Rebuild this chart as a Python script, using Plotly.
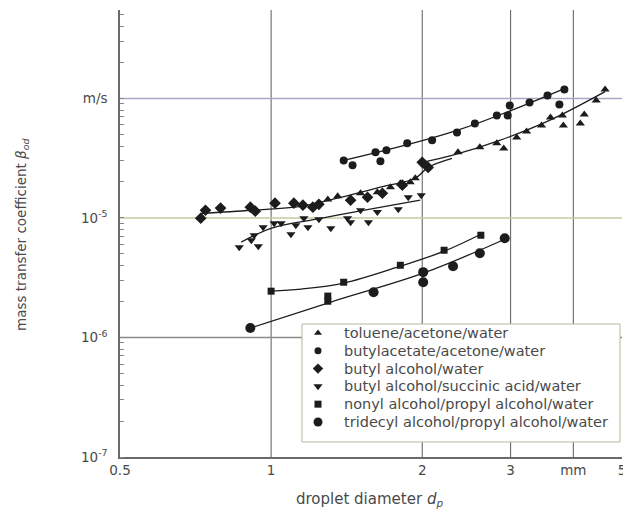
import plotly.graph_objects as go

# ---------------- data ----------------
# toluene/acetone/water (triangles)
tol_x = [1.297, 1.357, 1.507, 1.628, 1.729, 1.809, 1.893, 1.937, 2.357, 2.605, 2.816, 2.907,
         3.085, 3.228, 3.457, 3.602, 3.804, 3.821, 4.13, 4.206, 4.442, 4.627]
tol_y = [1.43e-5, 1.52e-5, 1.61e-5, 1.64e-5, 1.81e-5, 1.95e-5, 1.99e-5, 2.15e-5, 3.54e-5, 3.90e-5,
         4.21e-5, 3.82e-5, 4.72e-5, 5.30e-5, 5.95e-5, 6.94e-5, 7.21e-5, 5.95e-5, 6.18e-5, 7.35e-5,
         9.62e-5, 1.19e-4]
tol_cx = [2.0, 2.293, 2.854, 3.585, 4.627]
tol_cy = [2.92e-5, 3.34e-5, 4.46e-5, 6.55e-5, 1.14e-4]

# butylacetate/acetone/water (small circles)
ba_x = [1.395, 1.453, 1.614, 1.651, 1.697, 1.867, 2.093, 2.346, 2.546, 2.816, 2.96, 2.988,
        3.272, 3.553, 3.752, 3.839]
ba_y = [3.03e-5, 2.76e-5, 3.54e-5, 2.98e-5, 3.68e-5, 4.21e-5, 4.46e-5, 5.20e-5, 6.18e-5, 7.21e-5,
        7.21e-5, 8.74e-5, 9.26e-5, 1.06e-4, 8.91e-5, 1.19e-4]
ba_cx = [1.395, 2.346, 3.839]
ba_cy = [3.03e-5, 5.40e-5, 1.21e-4]

# butyl alcohol/water (diamonds)
bw_x = [0.724, 0.740, 0.793, 0.909, 0.930, 1.018, 1.11, 1.157, 1.211, 1.245, 1.44, 1.556,
        1.666, 1.826, 2.0, 2.055]
bw_y = [9.94e-6, 1.16e-5, 1.21e-5, 1.23e-5, 1.14e-5, 1.33e-5, 1.33e-5, 1.28e-5, 1.23e-5, 1.30e-5,
        1.41e-5, 1.49e-5, 1.61e-5, 1.88e-5, 2.92e-5, 2.65e-5]
bw_cx = [0.724, 0.913, 1.147, 1.376, 1.651, 1.937, 2.055, 2.293]
bw_cy = [1.09e-5, 1.16e-5, 1.25e-5, 1.49e-5, 1.81e-5, 2.15e-5, 2.65e-5, 3.15e-5]

# butyl alcohol/succinic acid/water (inverted triangles)
bs_x = [0.864, 0.913, 0.925, 0.943, 0.964, 1.014, 1.047, 1.095, 1.12, 1.162, 1.184, 1.245,
        1.315, 1.42, 1.44, 1.507, 1.563, 1.628, 1.792, 1.876, 1.991]
bs_y = [5.69e-6, 6.51e-6, 7.17e-6, 5.80e-6, 8.36e-6, 9.03e-6, 9.03e-6, 7.31e-6, 8.69e-6, 9.94e-6,
        8.36e-6, 9.75e-6, 8.20e-6, 9.94e-6, 9.21e-6, 1.16e-5, 9.21e-6, 1.12e-5, 1.18e-5, 1.49e-5,
        1.55e-5]
bs_cx = [0.872, 1.0, 1.256, 1.982]
bs_cy = [6.27e-6, 8.20e-6, 9.94e-6, 1.41e-5]

# nonyl alcohol/propyl alcohol/water (squares)
na_x = [1.0, 1.297, 1.297, 1.395, 1.809, 2.211, 2.617]
na_y = [2.44e-6, 2.22e-6, 2.01e-6, 2.90e-6, 4.02e-6, 5.37e-6, 7.17e-6]
na_cx = [1.0, 1.147, 1.395, 1.809, 2.211, 2.617]
na_cy = [2.44e-6, 2.54e-6, 2.85e-6, 3.95e-6, 5.27e-6, 7.31e-6]

# tridecyl alcohol/propyl alcohol/water (large circles)
td_x = [0.909, 1.60, 2.009, 2.009, 2.304, 2.605, 2.92]
td_y = [1.20e-6, 2.39e-6, 3.52e-6, 2.90e-6, 3.95e-6, 5.07e-6, 6.77e-6]
td_cx = [0.909, 1.315, 2.009, 2.92]
td_cy = [1.20e-6, 1.98e-6, 3.45e-6, 6.64e-6]

series_names = ["toluene/acetone/water", "butylacetate/acetone/water", "butyl alcohol/water",
                "butyl alcohol/succinic acid/water", "nonyl alcohol/propyl alcohol/water",
                "tridecyl alcohol/propyl alcohol/water"]

x_tickvals = [0.5, 1, 2, 3, 4, 5]
x_ticktext = ["0.5", "1", "2", "3", "mm", "5"]
x_gridvals = [1, 2, 3, 4]
y_tickvals = [1e-7, 1e-6, 1e-5, 1e-4]
y_ticktext = ["10<sup>-7</sup>", "10<sup>-6</sup>", "10<sup>-5</sup>", "m/s"]
y_gridvals = [1e-6, 1e-5, 1e-4]
y_gridcolors = ["#8a8a8a", "#c9c8a0", "#aaa6c4"]

# ---------------- figure ----------------
INK = "#1c1c1c"
TXT = "#4a4a4a"
FONT = "DejaVu Sans, Verdana, sans-serif"
XR = [-0.30103, 0.69900]
YR = [-7.0, -3.26]

fig = go.Figure()

styles = [("triangle-up", 8), ("circle", 8), ("diamond", 9),
          ("triangle-down", 8), ("square", 7), ("circle", 10)]
data = [(tol_x, tol_y, tol_cx, tol_cy), (ba_x, ba_y, ba_cx, ba_cy), (bw_x, bw_y, bw_cx, bw_cy),
        (bs_x, bs_y, bs_cx, bs_cy), (na_x, na_y, na_cx, na_cy), (td_x, td_y, td_cx, td_cy)]

for (xs, ys, cx, cy) in data:
    fig.add_trace(go.Scatter(x=cx, y=cy, mode="lines", line=dict(color=INK, width=1.3, shape="spline"),
                             showlegend=False, hoverinfo="skip"))
for name, (xs, ys, cx, cy), (sym, sz) in zip(series_names, data, styles):
    fig.add_trace(go.Scatter(x=xs, y=ys, mode="markers", name=name, showlegend=False,
                             marker=dict(symbol=sym, size=sz, color=INK)))

# ---- hand-built legend box (placed in paper fractions) ----
LEG_X0, LEG_X1, LEG_Y0, LEG_Y1 = 0.3625, 0.996, 0.0336, 0.2975
LEG_MARK_X, LEG_TEXT_X = 0.3944, 0.4422
LEG_ROW_TOP, LEG_ROW_STEP = 0.2774, 0.0398
legend_sizes = [7, 7, 8, 8, 7, 9]


def px_x(f):
    return 10 ** (XR[0] + f * (XR[1] - XR[0]))


def px_y(f):
    return 10 ** (YR[0] + f * (YR[1] - YR[0]))


shapes = []
for v in x_gridvals:
    shapes.append(dict(type="line", xref="x", x0=v, x1=v, yref="paper", y0=0, y1=1,
                       line=dict(color="#5c5c5c", width=1), layer="below"))
for v, c in zip(y_gridvals, y_gridcolors):
    shapes.append(dict(type="line", xref="paper", x0=0, x1=1, yref="y", y0=v, y1=v,
                       line=dict(color=c, width=1.5), layer="below"))
shapes.append(dict(type="rect", xref="paper", yref="paper", x0=LEG_X0, x1=LEG_X1, y0=LEG_Y0, y1=LEG_Y1,
                   fillcolor="white", line=dict(color="#b9b79e", width=1), layer="below"))

row_f = [LEG_ROW_TOP - i * LEG_ROW_STEP for i in range(len(series_names))]
annotations = []
for i, name in enumerate(series_names):
    sym, _ = styles[i]
    fig.add_trace(go.Scatter(x=[px_x(LEG_MARK_X)], y=[px_y(row_f[i])], mode="markers",
                             showlegend=False, hoverinfo="skip",
                             marker=dict(symbol=sym, size=legend_sizes[i], color=INK)))
    annotations.append(dict(text=name, xref="paper", yref="paper", x=LEG_TEXT_X, y=row_f[i],
                            xanchor="left", yanchor="middle", showarrow=False,
                            font=dict(size=14.5, color=TXT, family=FONT)))

annotations += [
    dict(text="mass transfer coefficient <i>β</i><sub><i>od</i></sub>", textangle=-90,
         xref="paper", yref="paper", x=-0.195, y=0.497, xanchor="center", yanchor="middle",
         showarrow=False, font=dict(size=13.5, color=TXT, family=FONT)),
    dict(text="droplet diameter <i>d</i><sub><i>p</i></sub>",
         xref="paper", yref="paper", x=0.498, y=-0.096, xanchor="center", yanchor="middle",
         showarrow=False, font=dict(size=15, color=TXT, family=FONT)),
]

fig.update_layout(
    width=623, height=516,
    margin=dict(l=120, r=1, t=10, b=59, autoexpand=False),
    paper_bgcolor="white", plot_bgcolor="white",
    font=dict(family=FONT, color=TXT, size=13),
    shapes=shapes,
    showlegend=False,
    annotations=annotations,
)

fig.update_xaxes(type="log", range=XR, tickvals=x_tickvals, ticktext=x_ticktext,
                 showgrid=False, zeroline=False, automargin=False, ticklabeloverflow="allow",
                 showline=True, linecolor="#6a6a6a", linewidth=1.5, ticks="",
                 tickfont=dict(size=13.5, color=TXT))
fig.update_yaxes(type="log", range=YR, tickvals=y_tickvals, ticktext=y_ticktext,
                 showgrid=False, zeroline=False, automargin=False,
                 showline=True, linecolor="#6a6a6a", linewidth=1.5, ticks="",
                 ticklabelstandoff=8,
                 minor=dict(ticks="inside", ticklen=4, tickcolor="#888", dtick="D1", showgrid=False),
                 tickfont=dict(size=13.5, color=TXT))

fig.write_html("out.html", config={"displayModeBar": False},
               post_script="document.body.style.margin='0px';")
